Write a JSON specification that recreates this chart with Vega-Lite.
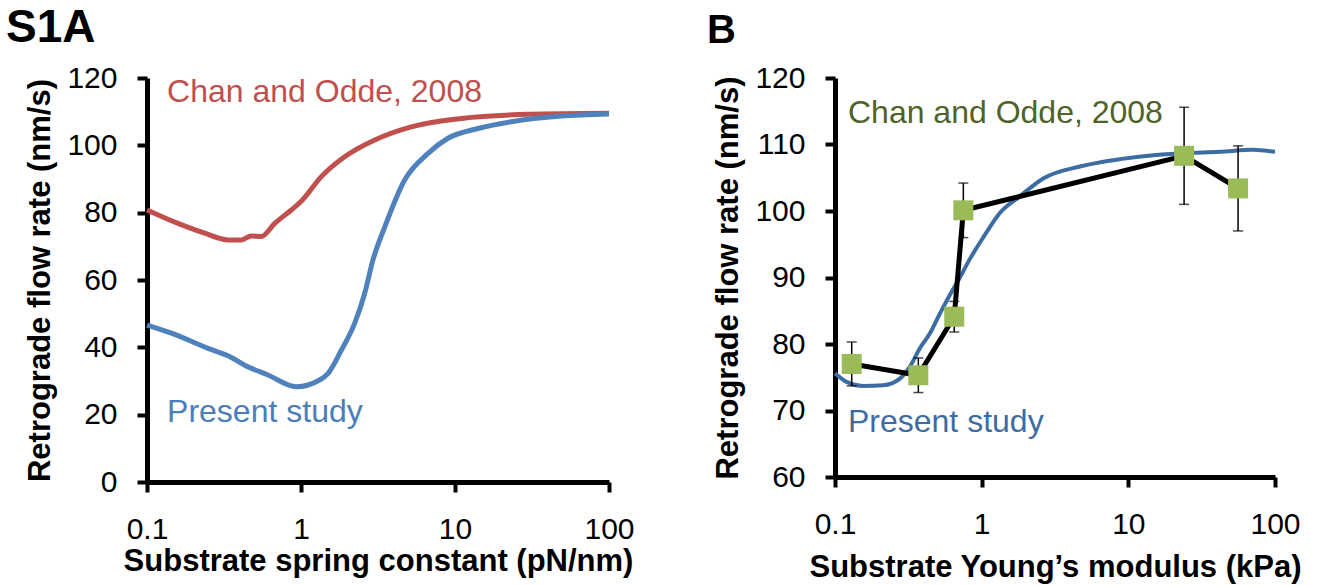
{
  "$schema": "https://vega.github.io/schema/vega-lite/v6.json",
  "background": "white",
  "padding": {"left": 6, "top": 5, "right": 5, "bottom": 5},
  "spacing": 226,
  "bounds": "flush",
  "config": {
    "view": {"stroke": null},
    "font": "Liberation Sans",
    "axis": {
      "grid": false,
      "domainColor": "black",
      "domainWidth": 5,
      "tickColor": "black",
      "tickWidth": 4,
      "tickSize": 10,
      "labelFont": "Liberation Sans",
      "labelFontSize": 30,
      "labelColor": "black",
      "titleFont": "Liberation Sans",
      "titleFontSize": 31,
      "titleFontWeight": "bold",
      "titleColor": "black",
      "labelOverlap": false,
      "labelFlush": false
    },
    "title": {"font": "Liberation Sans", "fontWeight": "bold", "color": "black", "anchor": "start", "frame": "group"}
  },
  "datasets": {
    "chanA": [
      {"k": 0.1, "v": 80.8}, {"k": 0.159, "v": 76.8}, {"k": 0.237, "v": 73.9}, {"k": 0.336, "v": 71.9},
      {"k": 0.41, "v": 71.9}, {"k": 0.475, "v": 73.1}, {"k": 0.552, "v": 72.9}, {"k": 0.675, "v": 76.8},
      {"k": 0.865, "v": 80.8}, {"k": 1.0, "v": 83.3}, {"k": 1.355, "v": 90.7}, {"k": 1.92, "v": 96.6},
      {"k": 3.01, "v": 101.6}, {"k": 5.2, "v": 105.5}, {"k": 11.0, "v": 108.0}, {"k": 29.8, "v": 109.2},
      {"k": 100, "v": 109.5}
    ],
    "presentA": [
      {"k": 0.1, "v": 46.6}, {"k": 0.144, "v": 44.2}, {"k": 0.249, "v": 39.7}, {"k": 0.353, "v": 37.0},
      {"k": 0.431, "v": 34.7}, {"k": 0.61, "v": 31.8}, {"k": 0.932, "v": 28.3}, {"k": 1.32, "v": 30.3},
      {"k": 1.5, "v": 32.3}, {"k": 1.83, "v": 39.2}, {"k": 2.23, "v": 47.1}, {"k": 2.59, "v": 56.0},
      {"k": 2.93, "v": 65.9}, {"k": 3.5, "v": 75.8}, {"k": 4.71, "v": 89.7}, {"k": 6.68, "v": 97.6},
      {"k": 9.0, "v": 102.1}, {"k": 14.1, "v": 105.0}, {"k": 23.2, "v": 107.0}, {"k": 49, "v": 108.7},
      {"k": 100, "v": 109.3}
    ],
    "presentB": [
      {"e": 0.1, "v": 75.6}, {"e": 0.12, "v": 74.3}, {"e": 0.156, "v": 73.7}, {"e": 0.213, "v": 73.8},
      {"e": 0.277, "v": 74.8}, {"e": 0.324, "v": 76.6}, {"e": 0.38, "v": 79.4}, {"e": 0.444, "v": 81.6},
      {"e": 0.52, "v": 84.6}, {"e": 0.608, "v": 87.4}, {"e": 0.711, "v": 90.0}, {"e": 0.832, "v": 92.8},
      {"e": 1.03, "v": 96.1}, {"e": 1.33, "v": 99.7}, {"e": 1.82, "v": 102.2}, {"e": 2.63, "v": 104.9},
      {"e": 4.68, "v": 106.7}, {"e": 8.77, "v": 107.8}, {"e": 14.8, "v": 108.4}, {"e": 23.9, "v": 108.7},
      {"e": 42.1, "v": 108.9}, {"e": 71, "v": 109.2}, {"e": 100, "v": 108.9}
    ],
    "chanB": [
      {"e": 0.13, "v": 77.0, "lo": 73.7, "hi": 80.3},
      {"e": 0.37, "v": 75.3, "lo": 72.7, "hi": 77.9},
      {"e": 0.65, "v": 84.1, "lo": 81.8, "hi": 86.4},
      {"e": 0.75, "v": 100.1, "lo": 96.0, "hi": 104.2},
      {"e": 24, "v": 108.3, "lo": 101.0, "hi": 115.6},
      {"e": 56, "v": 103.4, "lo": 97.0, "hi": 109.8}
    ]
  },
  "hconcat": [
    {
      "width": 462,
      "height": 404,
      "title": {"text": "S1A", "fontSize": 46, "dx": -141, "dy": -7},
      "layer": [
        {
          "data": {"name": "chanA"},
          "mark": {"type": "line", "color": "#C0504D", "strokeWidth": 5, "interpolate": "monotone"},
          "encoding": {
            "x": {"field": "k", "type": "quantitative", "scale": {"type": "log", "domain": [0.1, 100]},
                  "axis": {"values": [0.1, 1, 10, 100], "format": "~g", "title": "Substrate spring constant (pN/nm)",
                           "domainWidth": 5, "domainColor": "black", "tickWidth": 4, "tickColor": "black", "tickSize": 10,
                           "labelPadding": 22, "titlePadding": 2}},
            "y": {"field": "v", "type": "quantitative", "scale": {"domain": [0, 120], "nice": false},
                  "axis": {"values": [0, 20, 40, 60, 80, 100, 120], "title": "Retrograde flow rate (nm/s)",
                           "domainWidth": 5, "domainColor": "black", "tickWidth": 4, "tickColor": "black", "tickSize": 10,
                           "labelPadding": 20, "titlePadding": 10}}
          }
        },
        {
          "data": {"name": "presentA"},
          "mark": {"type": "line", "color": "#4F81BD", "strokeWidth": 5, "interpolate": "monotone"},
          "encoding": {
            "x": {"field": "k", "type": "quantitative"},
            "y": {"field": "v", "type": "quantitative"}
          }
        },
        {
          "data": {"values": [{"label": "Chan and Odde, 2008"}]},
          "mark": {"type": "text", "align": "left", "baseline": "alphabetic", "fontSize": 32, "color": "#C0504D", "font": "Liberation Sans"},
          "encoding": {"x": {"datum": 0.135}, "y": {"datum": 112.9}, "text": {"field": "label"}}
        },
        {
          "data": {"values": [{"label": "Present study"}]},
          "mark": {"type": "text", "align": "left", "baseline": "alphabetic", "fontSize": 32, "color": "#4A7EBB", "font": "Liberation Sans"},
          "encoding": {"x": {"datum": 0.135}, "y": {"datum": 17.8}, "text": {"field": "label"}}
        }
      ]
    },
    {
      "width": 440,
      "height": 399,
      "title": {"text": "B", "fontSize": 40, "dx": -128, "dy": -8},
      "layer": [
        {
          "data": {"name": "presentB"},
          "mark": {"type": "line", "color": "#3D6CA3", "strokeWidth": 4, "interpolate": "monotone"},
          "encoding": {
            "x": {"field": "e", "type": "quantitative", "scale": {"type": "log", "domain": [0.1, 100]},
                  "axis": {"values": [0.1, 1, 10, 100], "format": "~g", "title": "Substrate Young\u2019s modulus (kPa)",
                           "domainWidth": 5, "domainColor": "black", "tickWidth": 4, "tickColor": "black", "tickSize": 10,
                           "labelPadding": 22, "titlePadding": 13}},
            "y": {"field": "v", "type": "quantitative", "title": "Retrograde flow rate (nm/s)", "scale": {"domain": [60, 120], "nice": false, "zero": false},
                  "axis": {"values": [60, 70, 80, 90, 100, 110, 120],
                           "domainWidth": 5, "domainColor": "black", "tickWidth": 4, "tickColor": "black", "tickSize": 10,
                           "labelPadding": 20, "titlePadding": 10}}
          }
        },
        {
          "data": {"name": "chanB"},
          "mark": {"type": "errorbar", "color": "black", "thickness": 1.5, "ticks": {"size": 10, "thickness": 1.5, "color": "black"}},
          "encoding": {
            "x": {"field": "e", "type": "quantitative"},
            "y": {"field": "lo", "type": "quantitative", "title": "Retrograde flow rate (nm/s)"},
            "y2": {"field": "hi"}
          }
        },
        {
          "data": {"name": "chanB"},
          "mark": {"type": "line", "color": "black", "strokeWidth": 5},
          "encoding": {
            "x": {"field": "e", "type": "quantitative"},
            "y": {"field": "v", "type": "quantitative", "title": "Retrograde flow rate (nm/s)"}
          }
        },
        {
          "data": {"name": "chanB"},
          "mark": {"type": "point", "shape": "square", "filled": true, "size": 400, "color": "#9BBB59", "opacity": 1},
          "encoding": {
            "x": {"field": "e", "type": "quantitative"},
            "y": {"field": "v", "type": "quantitative", "title": "Retrograde flow rate (nm/s)"}
          }
        },
        {
          "data": {"values": [{"label": "Chan and Odde, 2008"}]},
          "mark": {"type": "text", "align": "left", "baseline": "alphabetic", "fontSize": 32, "color": "#4F6228", "font": "Liberation Sans"},
          "encoding": {"x": {"datum": 0.1226}, "y": {"datum": 113.2}, "text": {"field": "label"}}
        },
        {
          "data": {"values": [{"label": "Present study"}]},
          "mark": {"type": "text", "align": "left", "baseline": "alphabetic", "fontSize": 32, "color": "#3D6CA3", "font": "Liberation Sans"},
          "encoding": {"x": {"datum": 0.1226}, "y": {"datum": 66.8}, "text": {"field": "label"}}
        }
      ]
    }
  ]
}
